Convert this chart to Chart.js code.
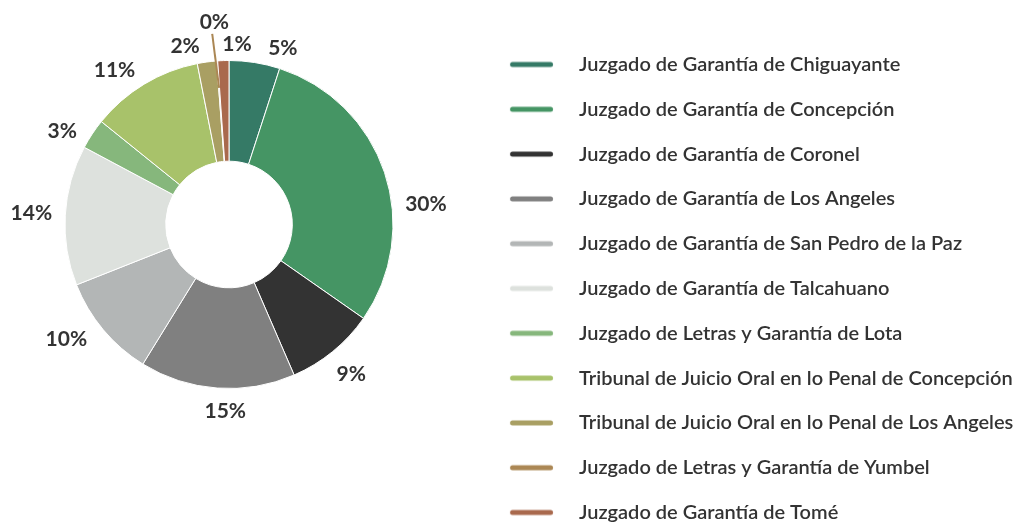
<!DOCTYPE html>
<html>
<head>
<meta charset="utf-8">
<title>Causas por tribunal</title>
<script src="https://cdn.jsdelivr.net/npm/chart.js@4.4.1/dist/chart.umd.min.js"></script>
<style>
  html, body { margin:0; padding:0; background:#fff; overflow:hidden }
  #wrap { width:1019px; height:524px }
</style>
</head>
<body>
<div id="wrap"><canvas id="chart" width="1019" height="524"></canvas></div>
<script>
// data
const courts = [
    "Juzgado de Garantía de Chiguayante",
    "Juzgado de Garantía de Concepción",
    "Juzgado de Garantía de Coronel",
    "Juzgado de Garantía de Los Angeles",
    "Juzgado de Garantía de San Pedro de la Paz",
    "Juzgado de Garantía de Talcahuano",
    "Juzgado de Letras y Garantía de Lota",
    "Tribunal de Juicio Oral en lo Penal de Concepción",
    "Tribunal de Juicio Oral en lo Penal de Los Angeles",
    "Juzgado de Letras y Garantía de Yumbel",
    "Juzgado de Garantía de Tomé"
]
const shares = [5.0, 29.7, 8.8, 15.3, 10.2, 13.8, 3.0, 11.1, 1.9, 0.1, 1.1]
const colors = ["#357a66","#459564","#333333","#808080","#b3b6b6","#dde1dd","#86b77c","#a8c26a","#a99f63","#ab8754","#a9694d"]

// label placement (degrees turned from the slice middle)
const labelShift = [8, 12.7, 0, -3, 4.7, 0, -4.2, -5.5, -6.1, 0, 4.5]

const FONT = "Lato"
const TEXT_COLOR = "#333333"
const W = 1019

// legend geometry: ring centre sits in the middle of the space left of the legend
const centerX = 229
const legendFont = 20
const legendPad = 24.8
const textX = 579
const lineX0 = 510, lineX1 = 553
const legendLeft = 2*centerX
const itemX = legendLeft + legendPad
const markWidth = textX - legendFont/2 - itemX

const measure = document.createElement("canvas").getContext("2d")
measure.font = `600 ${legendFont}px ${FONT}`
const textMax = Math.max(...courts.map(t=>measure.measureText(t).width))
const legendWidth = legendPad + markWidth + legendFont/2 + textMax + 10

// line marker used in the legend, drawn centred on itemX + markWidth/2
function lineMark(color){
    const mid = itemX + markWidth/2
    const half = Math.ceil(Math.max(mid - lineX0, lineX1 - mid)) + 2
    const c = document.createElement("canvas")
    c.width = half*2
    c.height = 10
    const left = mid - half
    const g = c.getContext("2d")
    g.strokeStyle = color
    g.lineWidth = 5
    g.lineCap = "round"
    g.beginPath()
    g.moveTo(lineX0 - left + 2.5, 5)
    g.lineTo(lineX1 - left - 2.5, 5)
    g.stroke()
    return c
}
const marks = colors.map(lineMark)

// percentage labels outside the ring
const ringLabels = {
    id:"ringLabels",
    afterDatasetsDraw(chart){
        const ctx = chart.ctx
        const meta = chart.getDatasetMeta(0)
        const data = chart.data.datasets[0].data
        const total = data.reduce((a,b)=>a+b,0)
        ctx.save()
        ctx.font = `bold 21px ${FONT}`
        ctx.fillStyle = TEXT_COLOR
        ctx.textAlign = "center"
        ctx.textBaseline = "middle"
        meta.data.forEach((arc,i)=>{
            const {x, y, startAngle, endAngle, outerRadius} = arc.getProps(["x","y","startAngle","endAngle","outerRadius"], true)
            const pct = Math.round(data[i]/total*100)
            const text = pct + "%"
            const mid = (startAngle+endAngle)/2
            const a = mid + labelShift[i]*Math.PI/180
            const w = ctx.measureText(text).width
            const tiny = pct === 0
            const s = Math.sin(a)
            const d = outerRadius + 13 + Math.abs(Math.cos(a))*w/2 + Math.abs(s)*(s < 0 ? 3 : 9) + (tiny ? 22 : 0)
            const lx = x + Math.cos(a)*d
            const ly = y + s*d
            if(tiny){
                // leader line for the empty slice
                ctx.strokeStyle = colors[i]
                ctx.lineWidth = 2
                ctx.beginPath()
                ctx.moveTo(x + Math.cos(mid)*(outerRadius-27), y + Math.sin(mid)*(outerRadius-27))
                ctx.lineTo(lx - Math.cos(a)*12 - 3, ly - s*12)
                ctx.stroke()
            }
            ctx.fillText(text, lx, ly)
        })
        ctx.restore()
    }
}

new Chart(document.getElementById("chart"),{
    type:"doughnut",
    data:{
        labels:courts,
        datasets:[{
            data:shares,
            backgroundColor:colors,
            borderColor:"#ffffff",
            borderWidth:1
        }]
    },
    options:{
        responsive:false,
        animation:false,
        radius:164,
        cutout:75,
        layout:{
            // negative left only widens the room the legend may take (chart area stays at 0)
            padding:{
                left:-150,
                right:W - legendLeft - legendWidth,
                top:29.7,
                bottom:-30
            }
        },
        plugins:{
            tooltip:{enabled:false},
            // empty box under the ring, lifts the ring centre
            title:{
                display:true,
                text:"",
                position:"bottom",
                fullSize:false,
                padding:{top:122.7, bottom:0},
                font:{size:12, lineHeight:1}
            },
            legend:{
                position:"right",
                align:"start",
                labels:{
                    usePointStyle:true,
                    pointStyleWidth:markWidth,
                    padding:legendPad,
                    color:TEXT_COLOR,
                    font:{family:FONT, size:legendFont, weight:"600"},
                    generateLabels:chart=>chart.data.labels.map((t,i)=>({
                        text:t,
                        fillStyle:colors[i],
                        strokeStyle:colors[i],
                        lineWidth:0,
                        pointStyle:marks[i],
                        fontColor:TEXT_COLOR,
                        hidden:false,
                        index:i
                    }))
                }
            }
        }
    },
    plugins:[ringLabels]
})
</script>
</body>
</html>
